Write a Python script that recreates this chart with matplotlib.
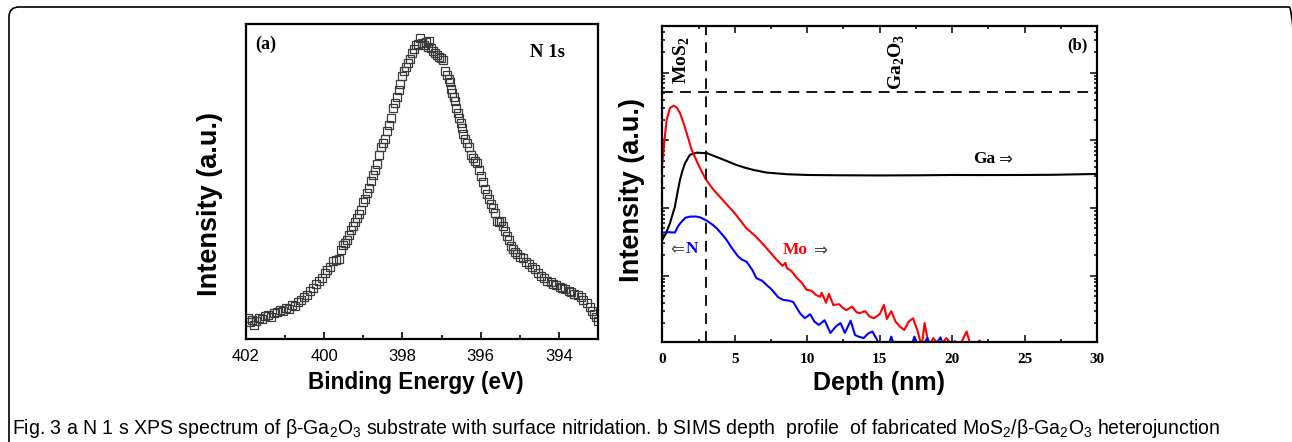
import matplotlib
matplotlib.use('Agg')
import matplotlib.pyplot as plt
from matplotlib import font_manager
from matplotlib.patches import FancyBboxPatch
from matplotlib.transforms import IdentityTransform
from matplotlib.ticker import MultipleLocator, NullFormatter, LogLocator

# (a) espectro XPS N 1s: energía de enlace (eV) e intensidad (u.a.)
xps_energy = [
    401.96, 401.91, 401.85, 401.80, 401.75, 401.67, 401.60, 401.52, 401.44, 401.37,
    401.29, 401.21, 401.14, 401.06, 400.98, 400.91, 400.83, 400.75, 400.67, 400.60,
    400.52, 400.44, 400.37, 400.29, 400.21, 400.14, 400.06, 399.98, 399.93, 399.86,
    399.78, 399.70, 399.62, 399.57, 399.52, 399.47, 399.42, 399.37, 399.32, 399.26,
    399.21, 399.16, 399.11, 399.06, 399.01, 398.96, 398.91, 398.86, 398.81, 398.75,
    398.70, 398.65, 398.60, 398.55, 398.50, 398.45, 398.40, 398.34, 398.29, 398.24,
    398.19, 398.14, 398.09, 398.07, 398.01, 397.96, 397.91, 397.86, 397.81, 397.76,
    397.71, 397.66, 397.61, 397.56, 397.50, 397.45, 397.40, 397.35, 397.33, 397.28,
    397.22, 397.17, 397.12, 397.07, 397.01, 396.96, 396.91, 396.86, 396.81, 396.78,
    396.76, 396.73, 396.68, 396.66, 396.63, 396.58, 396.55, 396.50, 396.47, 396.45,
    396.40, 396.34, 396.29, 396.24, 396.19, 396.14, 396.09, 396.04, 395.99, 395.94,
    395.89, 395.83, 395.78, 395.73, 395.68, 395.63, 395.58, 395.53, 395.48, 395.42,
    395.37, 395.32, 395.27, 395.22, 395.17, 395.12, 395.06, 394.99, 394.91, 394.83,
    394.76, 394.68, 394.60, 394.52, 394.45, 394.37, 394.29, 394.21, 394.14, 394.06,
    393.98, 393.91, 393.83, 393.75, 393.68, 393.60, 393.52, 393.44, 393.37, 393.29,
    393.21, 393.16, 393.11, 393.06, 393.01,
]
xps_intensity = [
    21, 17, 19, 14, 18, 21, 20, 23, 24, 22,
    26, 27, 29, 28, 31, 30, 34, 33, 37, 39,
    42, 44, 48, 51, 55, 58, 61, 66, 69, 72,
    78, 79, 80, 89, 94, 96, 99, 104, 109, 113,
    117, 121, 125, 129, 137, 140, 146, 151, 158, 164,
    169, 175, 184, 192, 196, 200, 208, 214, 221, 231,
    236, 242, 249, 255, 263, 268, 272, 276, 280, 286,
    290, 294, 295, 301, 296, 294, 297, 292, 298, 291,
    288, 286, 284, 282, 281, 279, 268, 264, 260, 257,
    250, 246, 242, 238, 231, 226, 221, 216, 211, 205,
    200, 196, 192, 184, 181, 178, 176, 169, 163, 157,
    150, 145, 140, 135, 131, 126, 118, 117, 118, 113,
    108, 103, 99, 93, 90, 87, 85, 82, 81, 77,
    75, 72, 70, 66, 63, 61, 58, 57, 55, 54,
    52, 51, 50, 48, 47, 45, 44, 42, 39, 36,
    32, 28, 25, 22, 18,
]
xps_ticks = [402, 400, 398, 396, 394]

# (b) perfil SIMS: profundidad (nm) y cuentas
mo_depth = [
    0.0, 0.15, 0.3, 0.53, 0.8, 1.0, 1.22, 1.45, 1.68, 2.03,
    2.5, 3.0, 3.5, 3.97, 4.5, 5.0, 5.4, 5.8, 6.4, 7.0,
    7.5, 7.9, 8.3, 8.5, 8.6, 8.9, 9.3, 9.6, 9.96, 10.3,
    10.6, 10.9, 11.0, 11.3, 11.5, 11.8, 12.2, 12.5, 12.7, 13.1,
    13.4, 13.6, 14.0, 14.3, 14.6, 15.0, 15.3, 15.5, 15.8, 16.1,
    16.4, 16.7, 17.0, 17.3, 17.6, 17.9, 18.1, 18.4, 18.7, 19.15,
    19.6, 20.1, 20.5, 21.0, 21.3, 21.9,
]
mo_counts = [
    4480, 10000, 20000, 30100, 32600, 30500, 25400, 18500, 12900, 7210,
    4300, 2660, 1900, 1470, 1100, 838, 650, 503, 390, 285,
    215, 171, 140, 155, 129, 118, 92, 80, 62, 60,
    52, 49, 56, 40, 54, 37, 38, 33, 31, 35,
    29, 28, 30, 25, 23.5, 27, 37, 23, 30, 21,
    17.7, 15.8, 21, 23.5, 15.8, 9, 20, 9, 12, 9,
    12, 9, 9, 15, 9, 11,
]
n_depth = [
    0.0, 0.4, 0.87, 1.1, 1.34, 1.6, 1.9, 2.3, 2.6, 3.06,
    3.4, 3.75, 4.1, 4.44, 4.8, 5.24, 5.5, 5.82, 6.2, 6.5,
    6.9, 7.2, 7.5, 7.77, 8.0, 8.34, 8.7, 9.03, 9.3, 9.5,
    9.84, 10.2, 10.5, 10.8, 11.2, 11.6, 12.0, 12.3, 12.6, 13.0,
    13.3, 13.6, 13.9, 14.2, 14.5, 14.8, 15.1, 15.5, 15.8, 16.1,
    17.1, 17.4, 17.7, 18.3, 18.6, 19.2, 19.5, 20.2, 20.5,
]
n_counts = [
    434, 440, 434, 545, 630, 720, 746, 750, 731, 652,
    582, 504, 414, 338, 257, 192, 173, 161, 123, 92,
    84, 73, 64, 55, 48, 44, 43, 41, 33, 28,
    23.6, 27, 21, 18.8, 22, 14.3, 18, 20, 14.3, 21.7,
    13.3, 12.5, 12, 14, 15, 11.5, 8, 8, 12.6, 8,
    8, 12.6, 8, 12, 8, 12.3, 8, 10.8, 8,
]
ga_depth = [
    0.0, 0.25, 0.53, 0.87, 1.05, 1.22, 1.4, 1.57, 1.9, 2.37,
    3.1, 3.97, 4.5, 5.1, 5.7, 6.28, 7.2, 8.6, 10, 12,
    15, 18, 20, 22, 25, 27, 30,
]
ga_counts = [
    338, 420, 596, 1050, 1700, 2600, 3600, 4590, 6090, 6580,
    6440, 5440, 4900, 4340, 3950, 3660, 3340, 3160, 3080, 3050,
    3030, 3050, 3080, 3070, 3080, 3100, 3190,
]
interface_depth = 3.0
interface_counts = 52400

SERIF = ['Liberation Serif', 'DejaVu Serif']
SANS = ['Liberation Sans', 'DejaVu Sans']

names = {f.name for f in font_manager.fontManager.ttflist}
CAPTION_FONT = 'Liberation Sans Narrow' if 'Liberation Sans Narrow' in names else 'Liberation Sans'


def plot_xps(ax):
    """Panel (a): espectro N 1s."""
    ax.plot(xps_energy, xps_intensity, 's', mfc='none', mec='#3a3a3a', ms=5.2, mew=0.9)
    ax.set_xlim(402, 393)
    ax.set_ylim(0, 315)
    ax.set_xticks(xps_ticks)
    ax.xaxis.set_minor_locator(MultipleLocator(1))
    ax.set_yticks([])
    ax.tick_params(axis='x', which='both', direction='in', top=False, pad=7)
    ax.tick_params(axis='x', which='major', length=5, width=1.2)
    ax.tick_params(axis='x', which='minor', length=3, width=1.2)
    for lab in ax.get_xticklabels():
        lab.set_family(SANS)
        lab.set_fontsize(12)
    for s in ax.spines.values():
        s.set_linewidth(1.6)
    ax.text(0.056, 0.937, '(a)', transform=ax.transAxes, ha='center', va='center',
            family=SERIF, weight='bold', fontsize=13)
    ax.text(0.857, 0.908, 'N 1s', transform=ax.transAxes, ha='center', va='center',
            family=SERIF, weight='bold', fontsize=13.5)


def plot_sims(ax):
    """Panel (b): perfil de profundidad SIMS."""
    ax.plot(ga_depth, ga_counts, color='black', lw=1.5)
    ax.plot(mo_depth, mo_counts, color='#ff0000', lw=1.5)
    ax.plot(n_depth, n_counts, color='#0000ff', lw=1.5)
    ax.axvline(interface_depth, color='black', lw=1.3, ls=(0, (6, 4)))
    ax.axhline(interface_counts, color='black', lw=1.3, ls=(0, (6, 4)))
    ax.set_yscale('log')
    ax.set_xlim(0, 30)
    ax.set_ylim(10.4, 4.94e5)
    ax.xaxis.set_major_locator(MultipleLocator(5))
    ax.xaxis.set_minor_locator(MultipleLocator(2.5))
    ax.yaxis.set_major_locator(LogLocator(base=10, numticks=10))
    ax.yaxis.set_minor_locator(LogLocator(base=10, subs=range(2, 10), numticks=10))
    ax.yaxis.set_major_formatter(NullFormatter())
    ax.yaxis.set_minor_formatter(NullFormatter())
    ax.tick_params(which='both', direction='in', top=True, right=True, width=1.1)
    ax.tick_params(which='major', length=5)
    ax.tick_params(which='minor', length=2.5)
    ax.tick_params(axis='x', pad=8)
    for lab in ax.get_xticklabels():
        lab.set_family(SERIF)
        lab.set_weight('bold')
        lab.set_fontsize(11)
    for s in ax.spines.values():
        s.set_linewidth(1.6)

    bold = dict(transform=ax.transAxes, family=SERIF, weight='bold')
    ax.text(0.956, 0.939, '(b)', ha='center', va='center', fontsize=12, **bold)
    ax.text(0.0446, 0.892, r'MoS$_\mathregular{2}$', ha='center', va='center',
            rotation=90, fontsize=14, **bold)
    ax.text(0.539, 0.885, r'Ga$_\mathregular{2}$O$_\mathregular{3}$', ha='center',
            va='center', rotation=90, fontsize=14, **bold)
    ax.text(0.715, 0.579, 'Ga', ha='left', va='center', fontsize=12.5, **bold)
    ax.text(0.772, 0.579, '\u21d2', ha='left', va='center', transform=ax.transAxes,
            family=['DejaVu Sans'], fontsize=12, color='#222222')
    ax.text(0.277, 0.2915, 'Mo', ha='left', va='center', fontsize=12.5, color='#ff0000', **bold)
    ax.text(0.346, 0.2915, '\u21d2', ha='left', va='center', transform=ax.transAxes,
            family=['DejaVu Sans'], fontsize=12, color='#444444')
    ax.text(0.0177, 0.295, '\u21d0', ha='left', va='center', transform=ax.transAxes,
            family=['DejaVu Sans'], fontsize=12, color='#555555')
    ax.text(0.0545, 0.295, 'N', ha='left', va='center', fontsize=12.5, color='#0000ff', **bold)


def main():
    fig = plt.figure(figsize=(12.92, 4.42), dpi=100)

    ax_a = fig.add_axes([0.1904, 0.2330, 0.2724, 0.7127])
    ax_b = fig.add_axes([0.5126, 0.2256, 0.3365, 0.7163])
    plot_xps(ax_a)
    plot_sims(ax_b)

    # etiquetas de ejes
    lab = dict(family=SANS, weight='bold', ha='center', va='center')
    fig.text(0.1625, 0.538, 'Intensity (a.u.)', rotation=90, fontsize=19.5, **lab)
    fig.text(0.489, 0.570, 'Intensity (a.u.)', rotation=90, fontsize=19.5, **lab)
    fig.text(0.322, 0.1335, 'Binding Energy (eV)', fontsize=16.3, **lab)
    fig.text(0.680, 0.133, 'Depth (nm)', fontsize=18, **lab)

    # pie de figura, ajustado al ancho del original
    caption = (r'Fig. 3 a N 1 s XPS spectrum of β-Ga$_\mathregular{2}$O$_\mathregular{3}$ '
               r'substrate with surface nitridation. b SIMS depth  profile  of fabricated '
               r'MoS$_\mathregular{2}$/β-Ga$_\mathregular{2}$O$_\mathregular{3}$ heterojunction')
    cap = fig.text(12 / 1292, 1 - 428 / 442, caption, family=CAPTION_FONT, fontsize=13,
                   ha='left', va='center')
    renderer = fig.canvas.get_renderer()
    w = cap.get_window_extent(renderer).width
    cap.set_fontsize(13 * 1206 / w)

    # marco redondeado alrededor de la figura
    frame = FancyBboxPatch((9, -12), 1290, 447, boxstyle='round,pad=0,rounding_size=10',
                           transform=IdentityTransform(), fill=False, lw=1.2,
                           edgecolor='black')
    fig.add_artist(frame)

    fig.savefig('out.png', dpi=100)


if __name__ == "__main__":
    main()
